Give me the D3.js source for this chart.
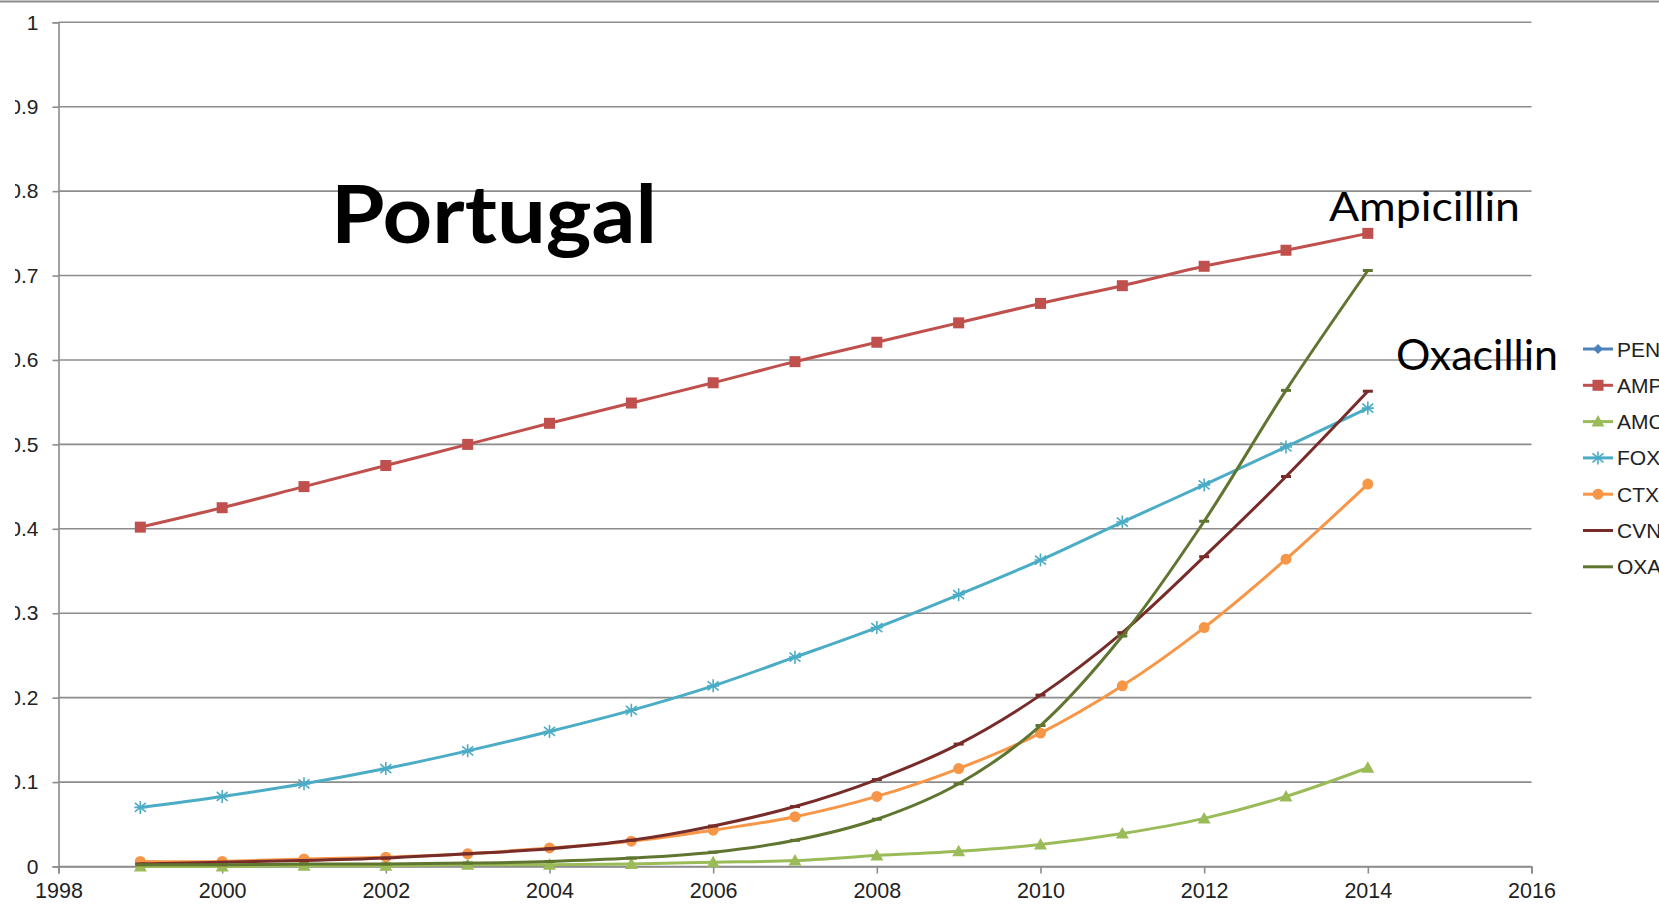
<!DOCTYPE html>
<html>
<head>
<meta charset="utf-8">
<script src="https://cdn.jsdelivr.net/npm/d3@7"></script>
<style>
  body { margin: 0; background: #fff; }
  svg { display: block; }
  .tick text { font-family: "Liberation Sans", Arial, sans-serif; fill: #222; }
</style>
</head>
<body>
<svg width="1659" height="910"></svg>
<script>
// years on the x axis
const years = [1999, 2000, 2001, 2002, 2003, 2004, 2005, 2006, 2007, 2008, 2009, 2010, 2011, 2012, 2013, 2014];
const xTicks = [1998, 2000, 2002, 2004, 2006, 2008, 2010, 2012, 2014, 2016];
const yTicks = [0, 0.1, 0.2, 0.3, 0.4, 0.5, 0.6, 0.7, 0.8, 0.9, 1];

// series values
const pen = [];
const amp = [0.402, 0.425, 0.450, 0.475, 0.500, 0.525, 0.549, 0.573, 0.598, 0.621, 0.644, 0.667, 0.688, 0.711, 0.730, 0.750];
const amc = [0.000, 0.000, 0.001, 0.001, 0.002, 0.002, 0.003, 0.005, 0.007, 0.013, 0.018, 0.026, 0.039, 0.057, 0.083, 0.117];
const fox = [0.070, 0.083, 0.098, 0.116, 0.137, 0.160, 0.185, 0.214, 0.248, 0.283, 0.322, 0.363, 0.408, 0.452, 0.497, 0.543];
const ctx = [0.006, 0.006, 0.009, 0.011, 0.015, 0.022, 0.030, 0.043, 0.059, 0.083, 0.116, 0.158, 0.214, 0.283, 0.364, 0.453];
const cvn = [0.003, 0.005, 0.007, 0.010, 0.015, 0.021, 0.031, 0.048, 0.071, 0.103, 0.145, 0.203, 0.277, 0.367, 0.462, 0.563];
const oxa = [0.002, 0.002, 0.003, 0.003, 0.004, 0.006, 0.010, 0.017, 0.031, 0.056, 0.098, 0.167, 0.273, 0.409, 0.564, 0.706];

const seriesNames = ['PEN', 'AMP', 'AMC', 'FOX', 'CTX', 'CVN', 'OXA'];
const seriesValues = [pen, amp, amc, fox, ctx, cvn, oxa];
const seriesColors = ['#4F81BD', '#C0504D', '#9BBB59', '#4BACC6', '#F79646', '#772C2A', '#5F7530'];
const seriesMarkers = ['diamond', 'square', 'triangle', 'star', 'circle', 'dash', 'dash'];

let svg = d3.select('svg');

let x = d3.scaleLinear().domain([1998, 2016]).range([58.5, 1531.5]);
let y = d3.scaleLinear().domain([0, 1]).range([866.5, 22.3]);

const gridColor = '#8c8c8c';

// line along the top edge of the slide
svg.append('line')
   .attr('x1', 0).attr('x2', 1659)
   .attr('y1', 1.5).attr('y2', 1.5)
   .attr('stroke', gridColor).attr('stroke-width', 2);

// horizontal gridlines
svg.append('g')
   .selectAll('line')
   .data(yTicks)
   .enter().append('line')
   .attr('x1', x(1998)).attr('x2', x(2016))
   .attr('y1', d => y(d)).attr('y2', d => y(d))
   .attr('stroke', gridColor).attr('stroke-width', 1.6);

// the y labels are cut at the left edge, as in the picture
svg.append('defs').append('clipPath').attr('id', 'ycut')
   .append('rect').attr('x', 15).attr('y', 0).attr('width', 100).attr('height', 910);

let yAxis = svg.append('g')
   .attr('transform', 'translate(' + x(1998) + ',0)')
   .attr('clip-path', 'url(#ycut)')
   .call(d3.axisLeft(y).tickValues(yTicks).tickSize(6).tickPadding(14).tickFormat(d3.format('')));
yAxis.selectAll('text').style('font-size', '21px');
yAxis.attr('clip-path', null);
yAxis.selectAll('.tick text').attr('clip-path', 'url(#ycutLocal)');
// clip in the axis' own coordinates
svg.select('defs').append('clipPath').attr('id', 'ycutLocal')
   .append('rect').attr('x', 15 - x(1998)).attr('y', -50).attr('width', 100).attr('height', 100);

let xAxis = svg.append('g')
   .attr('transform', 'translate(0,' + y(0) + ')')
   .call(d3.axisBottom(x).tickValues(xTicks).tickSize(7).tickPadding(9).tickFormat(d3.format('d')));
xAxis.selectAll('text').style('font-size', '21.5px');

svg.selectAll('.domain, .tick line').attr('stroke', gridColor).attr('stroke-width', 1.6);

// smoothed lines
let line = d3.line()
   .x((d, i) => x(years[i]))
   .y(d => y(d))
   .curve(d3.curveCatmullRom.alpha(0.5));

function marker(sel, type, color) {
   if (type === 'square') {
      sel.append('rect').attr('x', -5.5).attr('y', -5.5).attr('width', 11).attr('height', 11).attr('fill', color);
   } else if (type === 'circle') {
      sel.append('circle').attr('r', 5.5).attr('fill', color);
   } else if (type === 'triangle') {
      sel.append('path').attr('d', 'M0,-6.5L6.5,5L-6.5,5Z').attr('fill', color);
   } else if (type === 'diamond') {
      sel.append('path').attr('d', 'M0,-5L5,0L0,5L-5,0Z').attr('fill', color);
   } else if (type === 'star') {
      sel.append('path').attr('d', 'M0,-6.5V6.5M-5.5,-4.5L5.5,4.5M-5.5,4.5L5.5,-4.5M-6,0H6')
         .attr('stroke', color).attr('stroke-width', 1.6).attr('fill', 'none');
   } else if (type === 'dash') {
      sel.append('path').attr('d', 'M-5,0H5').attr('stroke', color).attr('stroke-width', 3).attr('fill', 'none');
   }
}

seriesValues.forEach((vals, s) => {
   if (!vals.length) return;
   let g = svg.append('g');
   g.append('path')
    .attr('d', line(vals))
    .attr('fill', 'none')
    .attr('stroke', seriesColors[s])
    .attr('stroke-width', 3);
   g.selectAll('g.pt')
    .data(vals)
    .enter().append('g')
    .attr('class', 'pt')
    .attr('transform', (d, i) => 'translate(' + x(years[i]) + ',' + y(d) + ')')
    .each(function() { marker(d3.select(this), seriesMarkers[s], seriesColors[s]); });
});

// legend (cut at the right edge)
let legend = svg.append('g').attr('transform', 'translate(1583,349)');
seriesNames.forEach((name, s) => {
   let row = legend.append('g').attr('transform', 'translate(0,' + s * 36.3 + ')');
   row.append('line').attr('x1', 0).attr('x2', 30)
      .attr('stroke', seriesColors[s]).attr('stroke-width', 3);
   let m = row.append('g').attr('transform', 'translate(15,0)');
   if (seriesMarkers[s] !== 'dash' || name === 'CVN') marker(m, seriesMarkers[s], seriesColors[s]);
   row.append('text')
      .attr('x', 34).attr('y', 7.5)
      .style('font-family', '"Liberation Sans", Arial, sans-serif')
      .style('font-size', '21px')
      .attr('fill', '#222')
      .text(name);
});

// text boxes on the slide
function label(txt, x0, base, size, len, weight) {
   svg.append('text')
      .attr('x', x0).attr('y', base)
      .attr('textLength', len).attr('lengthAdjust', 'spacingAndGlyphs')
      .style('font-family', 'Lato, "Open Sans", sans-serif')
      .style('font-weight', weight)
      .style('font-size', size + 'px')
      .attr('fill', '#000')
      .text(txt);
}
label('Portugal', 331, 243, 81, 326, 700);
label('Ampicillin', 1329, 221, 41, 191, 400);
label('Oxacillin', 1396, 370, 43, 162, 400);
</script>
</body>
</html>
